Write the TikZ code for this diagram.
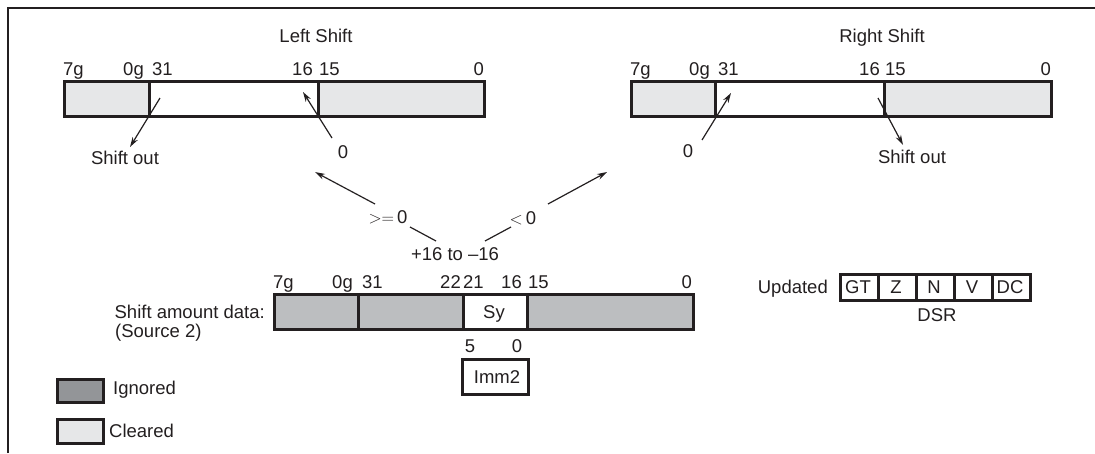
\documentclass[tikz,border=0pt]{standalone}
\usepackage{fontspec}
\setmainfont{Liberation Sans}
\usetikzlibrary{arrows.meta}
\definecolor{clr}{HTML}{E6E7E8}
\definecolor{ign}{HTML}{BCBEC0}
\definecolor{ignleg}{HTML}{939598}
\definecolor{ink}{HTML}{231F20}
\tikzset{
  field/.style={draw=ink, line width=2.5pt, inner sep=0pt, anchor=north west},
  lbl/.style={anchor=base, inner sep=0pt, text=ink, font=\fontsize{18.5}{22}\selectfont},
  lblw/.style={lbl, anchor=base west},
  lble/.style={lbl, anchor=base east},
  arr/.style={draw=ink, line width=1.2pt, -{Stealth[length=10pt,width=6pt]}},
  ln/.style={draw=ink, line width=1.2pt},
}
\begin{document}
\begin{tikzpicture}[x=1pt,y=-1pt]
\useasboundingbox (0,0) rectangle (1095,453);
% frame
\draw[line width=2.2pt, ink] (8,453) -- (8,8) -- (1095,8);

% ---------- Left shift register ----------
\node[lbl] (lstitle) at (316,42) {Left Shift};
\node[field, fill=clr, minimum width=85, minimum height=35] (la) at (63,80) {};
\node[field, fill=white, minimum width=169, minimum height=35] (lb) at (148,80) {};
\node[field, fill=clr, minimum width=166, minimum height=35] (lc) at (317,80) {};
\node[lblw] (l7g) at (63,75) {7g};
\node[lble] (l0g) at (144,75) {0g};
\node[lblw] (l31) at (152,75) {31};
\node[lble] (l16) at (313,75) {16};
\node[lblw] (l15) at (319,75) {15};
\node[lble] (l0) at (484,75) {0};
\node[lbl] (lso) at (125,164) {Shift out};
\node[lbl] (lz) at (343,158) {0};
\coordinate (lsoA) at (160,98);
\coordinate (lsoB) at (130,147);
\coordinate (lzA) at (332,138);
\coordinate (lzB) at (303,92);
\draw[arr] (lsoA) -- (lsoB);
\draw[arr] (lzA) -- (lzB);

% ---------- Right shift register ----------
\node[lbl] (rstitle) at (882,42) {Right Shift};
\node[field, fill=clr, minimum width=84, minimum height=35] (ra) at (630,80) {};
\node[field, fill=white, minimum width=169, minimum height=35] (rb) at (714,80) {};
\node[field, fill=clr, minimum width=167, minimum height=35] (rc) at (883,80) {};
\node[lblw] (r7g) at (630,75) {7g};
\node[lble] (r0g) at (710,75) {0g};
\node[lblw] (r31) at (718,75) {31};
\node[lble] (r16) at (880,75) {16};
\node[lblw] (r15) at (885,75) {15};
\node[lble] (r0) at (1051,75) {0};
\node[lbl] (rz) at (688,157) {0};
\node[lbl] (rso) at (912,163) {Shift out};
\coordinate (rzA) at (702,140);
\coordinate (rzB) at (731,93);
\coordinate (rsoA) at (878,98);
\coordinate (rsoB) at (903,145);
\draw[arr] (rzA) -- (rzB);
\draw[arr] (rsoA) -- (rsoB);

% ---------- selection ----------
\node[lbl] (ge) at (388,223) {$>=$\,0};
\node[lbl] (lt) at (523,224) {$<$\,0};
\node[lbl] (rng) at (455,260) {+16 to –16};
\coordinate (geA) at (375,204);
\coordinate (geB) at (315,172);
\coordinate (ltA) at (548,204);
\coordinate (ltB) at (607,172);
\draw[arr] (geA) -- (geB);
\draw[arr] (ltA) -- (ltB);
\coordinate (g1) at (410,227);
\coordinate (g2) at (436,241);
\coordinate (t1) at (485,241);
\coordinate (t2) at (511,227);
\draw[ln] (g1) -- (g2);
\draw[ln] (t1) -- (t2);

% ---------- Source register ----------
\node[field, fill=ign, minimum width=84, minimum height=35] (sa) at (273,293) {};
\node[field, fill=ign, minimum width=105, minimum height=35] (sb) at (357,293) {};
\node[field, fill=white, minimum width=64, minimum height=35] (sy) at (462,293) {};
\node[field, fill=ign, minimum width=166, minimum height=35] (sc) at (526,293) {};
\node[lbl] (sytxt) at (494,318) {Sy};
\node[lblw] (s7g) at (273,288) {7g};
\node[lble] (s0g) at (353,288) {0g};
\node[lblw] (s31) at (362,288) {31};
\node[lble] (s22) at (461,288) {22};
\node[lblw] (s21) at (463,288) {21};
\node[lble] (s16) at (522,288) {16};
\node[lblw] (s15) at (528,288) {15};
\node[lble] (s0) at (692,288) {0};
\node[lble] (sad) at (265,318) {Shift amount data:};
\node[lblw] (src) at (115,337) {(Source 2)};

% ---------- Imm2 ----------
\node[lbl] (i5) at (470,352) {5};
\node[lbl] (i0) at (517,352) {0};
\node[field, fill=white, minimum width=66, minimum height=35] (imm) at (461,358) {};
\node[lbl] (immtxt) at (497,383) {Imm2};

% ---------- DSR ----------
\node[lble] (upd) at (828,293) {Updated};
\node[field, fill=white, minimum width=38, minimum height=26] (dgt) at (839,273) {};
\node[field, fill=white, minimum width=38, minimum height=26] (dz) at (877,273) {};
\node[field, fill=white, minimum width=38, minimum height=26] (dn) at (915,273) {};
\node[field, fill=white, minimum width=38, minimum height=26] (dv) at (953,273) {};
\node[field, fill=white, minimum width=38, minimum height=26] (ddc) at (991,273) {};
\node[lbl] (tgt) at (858,293) {GT};
\node[lbl] (tz) at (896,293) {Z};
\node[lbl] (tn) at (934,293) {N};
\node[lbl] (tv) at (972,293) {V};
\node[lbl] (tdc) at (1010,293) {DC};
\node[lbl] (dsr) at (937,321) {DSR};

% ---------- Legend ----------
\node[field, fill=ignleg, minimum width=46, minimum height=23] (legi) at (56,378) {};
\node[lblw] (legit) at (113,394) {Ignored};
\node[field, fill=clr, minimum width=46, minimum height=24] (legc) at (56,418) {};
\node[lblw] (legct) at (109,437) {Cleared};
\end{tikzpicture}
\end{document}
